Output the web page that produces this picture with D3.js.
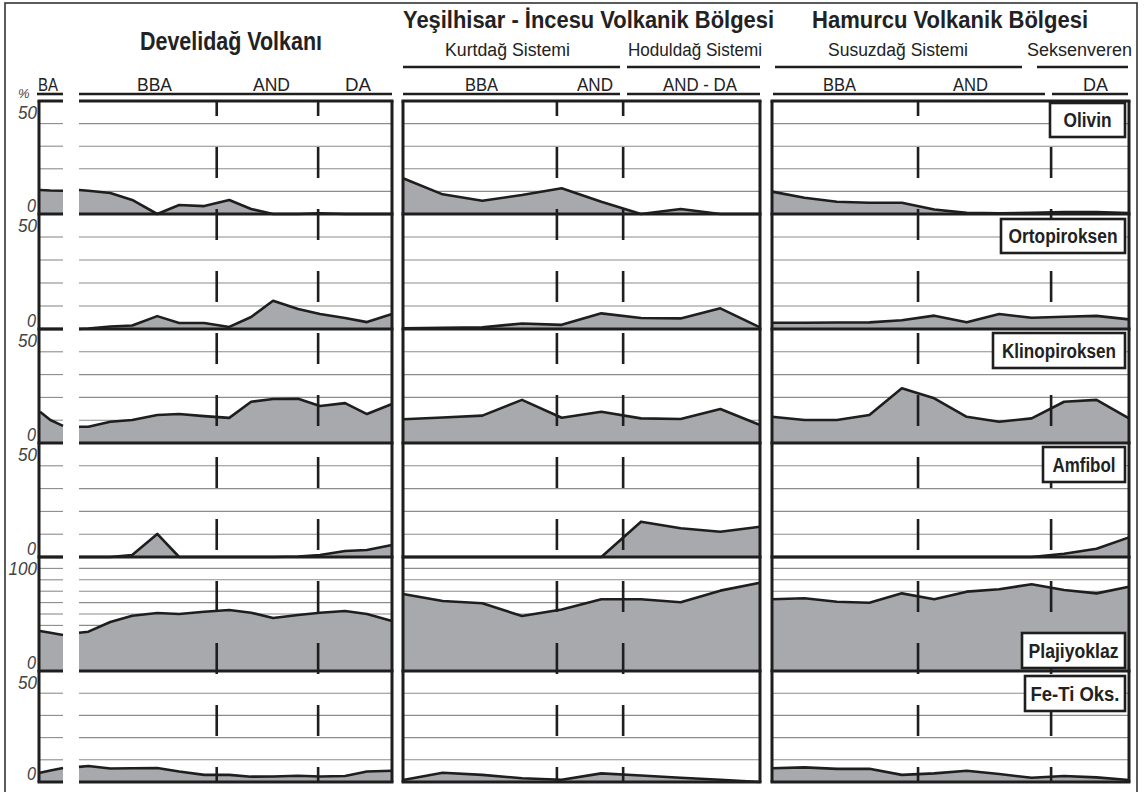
<!DOCTYPE html>
<html>
<head>
<meta charset="utf-8">
<script src="https://cdn.jsdelivr.net/npm/d3@7"></script>
<style>
body { margin: 0; background: #fff; }
text { font-family: "Liberation Sans Narrow", "Arial Narrow", "Liberation Sans", Arial, sans-serif; fill: #222; }
</style>
</head>
<body>
<div id="plot"></div>
<script>
// minerals, one row each, and the top of each row's % scale
minerals = ["Olivin", "Ortopiroksen", "Klinopiroksen", "Amfibol", "Plajiyoklaz", "Fe-Ti Oks."]
maxVal = [50, 50, 50, 50, 100, 50]

// Develidağ Volkanı - BA samples (position along profile 0-100)
develiBAPos = [0, 45, 100]
develiBA = [
  [10.6, 10.4, 10.3],
  [0, 0, 0],
  [13.7, 10.1, 7.5],
  [0, 0, 0],
  [35.1, 33.5, 31.6],
  [4.2, 5.2, 6.3]
]

// Develidağ Volkanı - BBA / AND / DA samples
develiPos = [0, 3, 10, 17, 25, 32, 40, 48, 55, 62, 70, 77, 85, 92, 100]
develi = [
  [10.6, 10.3, 9.3, 6.2, 0, 4.0, 3.5, 6.2, 2.2, 0, 0, 0.3, 0, 0, 0],
  [0, 0.2, 1.1, 1.5, 5.6, 2.6, 2.6, 0.9, 5.2, 12.3, 8.7, 6.5, 4.8, 3.0, 6.5],
  [7.1, 7.1, 9.3, 10.1, 12.3, 12.7, 11.8, 11.0, 18.1, 19.3, 19.4, 16.2, 17.5, 12.7, 17.1],
  [0, 0, 0, 0.9, 10.1, 0, 0, 0, 0, 0, 0.2, 0.9, 2.6, 3.1, 5.3],
  [33.6, 34.5, 43.0, 48.5, 50.9, 50.0, 52.0, 53.5, 51.1, 46.5, 49.1, 51.1, 52.6, 50.0, 43.9],
  [6.8, 7.2, 6.1, 6.2, 6.3, 4.7, 3.2, 3.2, 2.4, 2.5, 2.8, 2.5, 2.7, 4.7, 5.1]
]
develiBounds = [44, 76.4]

// Yeşilhisar - İncesu (sample number)
yesilPos = [0, 1, 2, 3, 4, 5, 6, 7, 8, 9]
yesil = [
  [15.8, 8.7, 5.9, 8.4, 11.4, 5.4, 0, 2.2, 0, 0],
  [0.3, 0.5, 0.7, 2.4, 1.8, 6.8, 4.8, 4.6, 9.0, 0.7],
  [10.4, 11.2, 12.0, 18.9, 11.1, 13.7, 10.8, 10.5, 14.9, 7.9],
  [0, 0, 0, 0, 0, 0, 15.5, 12.6, 11.1, 13.3],
  [67.5, 61.4, 59.4, 48.2, 54.0, 62.9, 62.9, 60.3, 70.5, 77.5],
  [0.9, 4.2, 3.2, 1.7, 1.0, 3.9, 2.9, 1.9, 1.0, 0]
]
yesilBounds = [3.88, 5.55]

// Hamurcu (sample number)
hamurcuPos = [0, 1, 2, 3, 4, 5, 6, 7, 8, 9, 10, 11]
hamurcu = [
  [9.9, 7.2, 5.4, 5.0, 5.0, 2.0, 0.5, 0.3, 0.5, 0.9, 0.9, 0.4],
  [2.7, 2.7, 2.8, 2.9, 3.8, 5.8, 2.9, 6.5, 4.9, 5.3, 5.7, 4.2],
  [11.5, 10.1, 10.1, 12.3, 24.0, 19.6, 11.5, 9.3, 10.8, 18.1, 18.9, 10.8],
  [0, 0, 0, 0, 0, 0, 0, 0, 0, 1.4, 3.6, 8.6],
  [62.9, 63.8, 60.8, 59.9, 68.1, 62.9, 69.6, 71.7, 76.1, 71.1, 68.1, 73.9],
  [6.2, 6.6, 5.9, 6.0, 3.2, 3.9, 5.1, 3.6, 1.9, 2.7, 2.1, 0.9]
]
hamurcuBounds = [4.5, 8.6]

W = 1144, H = 792
rowEdges = [101, 214, 329, 443, 557, 671, 782]
fillColor = "#a8a9ac"
ink = "#1e1e1e"

svg = d3.select("#plot").append("svg").attr("width", W).attr("height", H).attr("viewBox", [0, 0, W, H])

svg.append("rect").attr("x", 5).attr("y", 3).attr("width", 1132).attr("height", 820)
  .attr("fill", "none").attr("stroke", "#333").attr("stroke-width", 1.6)

function rowScale(i) {
  return d3.scaleLinear().domain([0, maxVal[i]]).range([rowEdges[i + 1], rowEdges[i]])
}

function drawPart(x, pos, series) {
  const g = svg.append("g")
  const [x0, x1] = x.range()
  minerals.forEach((m, i) => {
    const y = rowScale(i)
    g.append("g").selectAll("line").data(d3.range(10, maxVal[i], 10)).join("line")
      .attr("x1", x0).attr("x2", x1).attr("y1", d => y(d)).attr("y2", d => y(d))
      .attr("stroke", "#8c8c8c").attr("stroke-width", 1.1)
    const pts = pos.map((p, k) => [p, series[i][k]])
    g.append("path").datum(pts)
      .attr("d", d3.area().x(d => x(d[0])).y0(y(0)).y1(d => y(d[1])))
      .attr("fill", fillColor)
    g.append("path").datum(pts)
      .attr("d", d3.line().x(d => x(d[0])).y(d => y(d[1])))
      .attr("fill", "none").attr("stroke", ink).attr("stroke-width", 2.6).attr("stroke-linejoin", "round")
  })
  return g
}

function drawBounds(x, bounds) {
  svg.append("g").selectAll("line").data(bounds).join("line")
    .attr("x1", d => x(d)).attr("x2", d => x(d))
    .attr("y1", rowEdges[0]).attr("y2", rowEdges[6])
    .attr("stroke", ink).attr("stroke-width", 2.6)
    .attr("stroke-dasharray", "31,31").attr("stroke-dashoffset", 16)
}

function drawFrame(x, left, right) {
  const [x0, x1] = x.range()
  const g = svg.append("g").attr("stroke", ink).attr("stroke-width", 3)
  g.selectAll("line.h").data(rowEdges).join("line").attr("class", "h")
    .attr("x1", x0 - (left ? 1.5 : 0)).attr("x2", x1 + (right ? 1.5 : 0))
    .attr("y1", d => d).attr("y2", d => d)
  if (left) g.append("line").attr("x1", x0).attr("x2", x0).attr("y1", rowEdges[0]).attr("y2", rowEdges[6])
  if (right) g.append("line").attr("x1", x1).attr("x2", x1).attr("y1", rowEdges[0]).attr("y2", rowEdges[6])
}

xBA = d3.scaleLinear().domain([0, 100]).range([40, 63])
xDeveli = d3.scaleLinear().domain([0, 100]).range([79, 392])
xYesil = d3.scaleLinear().domain([0, 9]).range([403, 760])
xHamurcu = d3.scaleLinear().domain([0, 11]).range([772, 1129])

drawPart(xBA, develiBAPos, develiBA)
drawPart(xDeveli, develiPos, develi)
drawPart(xYesil, yesilPos, yesil)
drawPart(xHamurcu, hamurcuPos, hamurcu)

drawBounds(xDeveli, develiBounds)
drawBounds(xYesil, yesilBounds)
drawBounds(xHamurcu, hamurcuBounds)

drawFrame(d3.scaleLinear().range([39, 63]), true, false)
drawFrame(xDeveli, false, true)
drawFrame(xYesil, true, true)
drawFrame(xHamurcu, true, true)

// header texts
function label(t, x0, x1, y, size, weight) {
  svg.append("text").text(t).attr("x", x0).attr("y", y)
    .attr("font-size", size).attr("font-weight", weight || "normal")
    .attr("textLength", x1 - x0).attr("lengthAdjust", "spacingAndGlyphs")
}
label("Develidağ Volkanı", 140, 322, 50, 25, "bold")
label("Yeşilhisar - İncesu Volkanik Bölgesi", 403, 774, 28, 23, "bold")
label("Hamurcu Volkanik Bölgesi", 812, 1088, 28, 23, "bold")

label("Kurtdağ Sistemi", 445, 570, 56, 18)
label("Hoduldağ Sistemi", 628, 762, 56, 18)
label("Susuzdağ Sistemi", 828, 968, 56, 18)
label("Seksenveren", 1027, 1132, 56, 18)

label("BA", 38, 58, 91, 18)
label("BBA", 137, 172, 91, 18)
label("AND", 253, 290, 91, 18)
label("DA", 345, 371, 91, 18)
label("BBA", 465, 498, 91, 18)
label("AND", 577, 613, 91, 18)
label("AND - DA", 663, 737, 91, 18)
label("BBA", 823, 856, 91, 18)
label("AND", 953, 988, 91, 18)
label("DA", 1083, 1108, 91, 18)

underlines = [[403, 620, 67], [627, 760, 67], [775, 1022, 67], [1037, 1128, 67],
  [37, 63, 94], [79, 392, 94], [403, 620, 94], [627, 760, 94], [773, 1045, 94], [1052, 1128, 94]]
svg.append("g").selectAll("line").data(underlines).join("line")
  .attr("x1", d => d[0]).attr("x2", d => d[1]).attr("y1", d => d[2]).attr("y2", d => d[2])
  .attr("stroke", ink).attr("stroke-width", 2.6)

// y axis labels on the left
svg.append("text").text("%").attr("x", 18).attr("y", 98).attr("font-size", 13).attr("font-style", "italic").style("fill", "#444")
minerals.forEach((m, i) => {
  const y = rowScale(i)
  const top = String(maxVal[i])
  svg.append("text").text(top).attr("x", 37 - 9.5 * top.length).attr("y", y(maxVal[i]) + 18)
    .attr("font-size", 18).attr("font-style", "italic").style("fill", "#444")
    .attr("textLength", 9.5 * top.length).attr("lengthAdjust", "spacingAndGlyphs")
  svg.append("text").text("0").attr("x", 27).attr("y", y(0) - 2)
    .attr("font-size", 18).attr("font-style", "italic").style("fill", "#444")
    .attr("textLength", 9).attr("lengthAdjust", "spacingAndGlyphs")
})

// mineral name boxes
boxes = [[1050, 103, 137, 48], [1001, 219, 253, 109], [993, 333, 368, 114],
  [1043, 447, 482, 63], [1022, 633, 668, 90], [1025, 676, 711, 89]]
minerals.forEach((m, i) => {
  const b = boxes[i]
  svg.append("rect").attr("x", b[0]).attr("y", b[1]).attr("width", 1125 - b[0]).attr("height", b[2] - b[1])
    .attr("fill", "#fff").attr("stroke", ink).attr("stroke-width", 2.6)
  const cx = (b[0] + 1125) / 2
  svg.append("text").text(m).attr("x", cx - b[3] / 2).attr("y", (b[1] + b[2]) / 2 + 7)
    .attr("font-size", 20).attr("font-weight", "bold")
    .attr("textLength", b[3]).attr("lengthAdjust", "spacingAndGlyphs")
})
</script>
</body>
</html>
